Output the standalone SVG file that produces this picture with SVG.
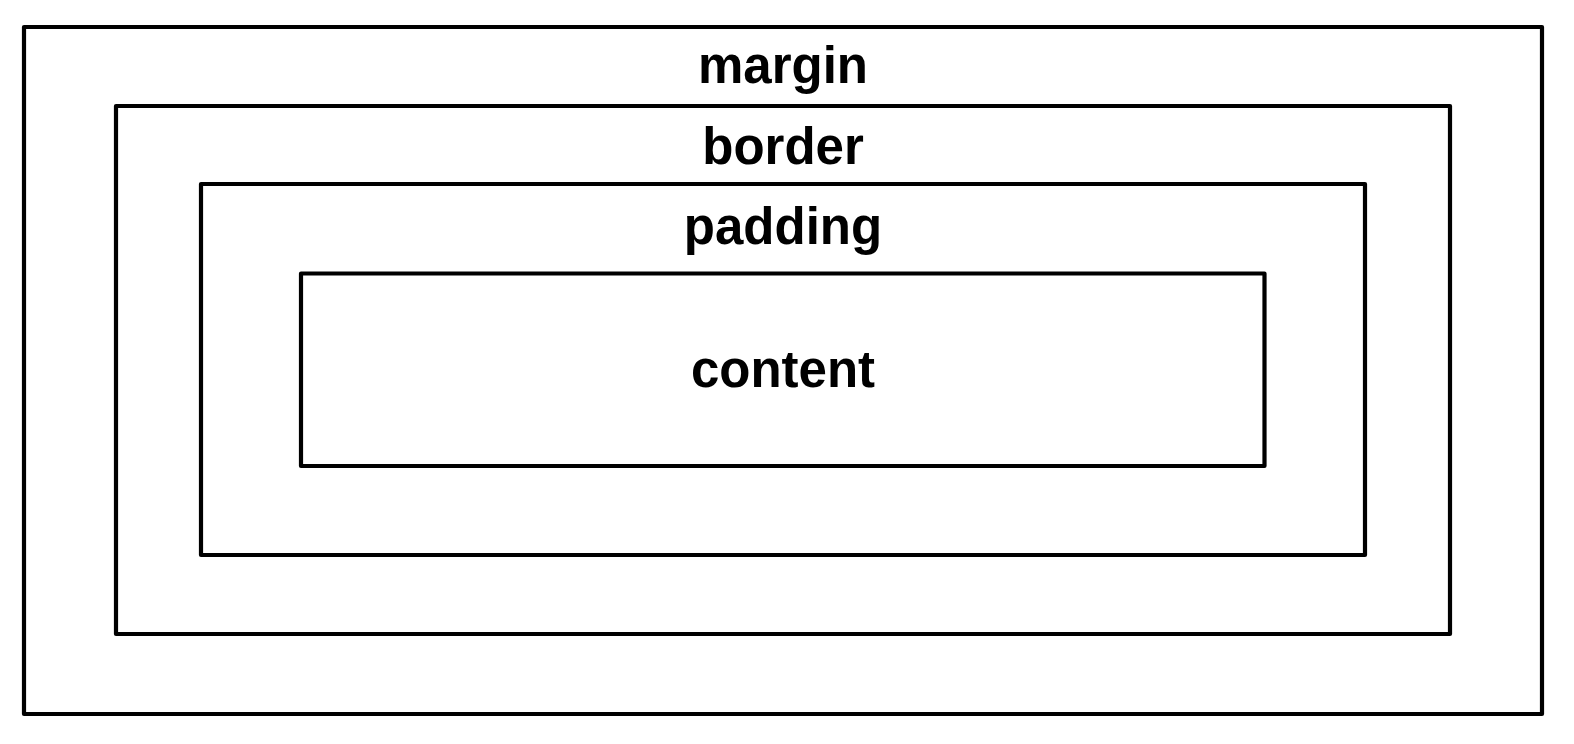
<svg xmlns="http://www.w3.org/2000/svg" width="1574" height="744" viewBox="0 0 1574 744">
<style>
.box{fill:none;stroke:#000;stroke-width:4.2;stroke-linejoin:round}
.lbl{font-family:"Liberation Sans",Arial,Helvetica,sans-serif;font-weight:bold;font-size:51px;fill:#000;text-anchor:middle}
</style>
<rect x="0" y="0" width="1574" height="744" fill="#fff"/>
<g id="margin">
<rect class="box" x="24" y="27" width="1518" height="687"/>
<text class="lbl" x="783" y="83">margin</text>
</g>
<g id="border">
<rect class="box" x="116" y="106" width="1334" height="528"/>
<text class="lbl" x="783" y="164">border</text>
</g>
<g id="padding">
<rect class="box" x="201" y="184" width="1164" height="371"/>
<text class="lbl" x="783" y="244">padding</text>
</g>
<g id="content">
<rect class="box" x="301" y="273.5" width="963.5" height="192.5"/>
<text class="lbl" x="783" y="387">content</text>
</g>
<g id="connectors"></g>
</svg>
